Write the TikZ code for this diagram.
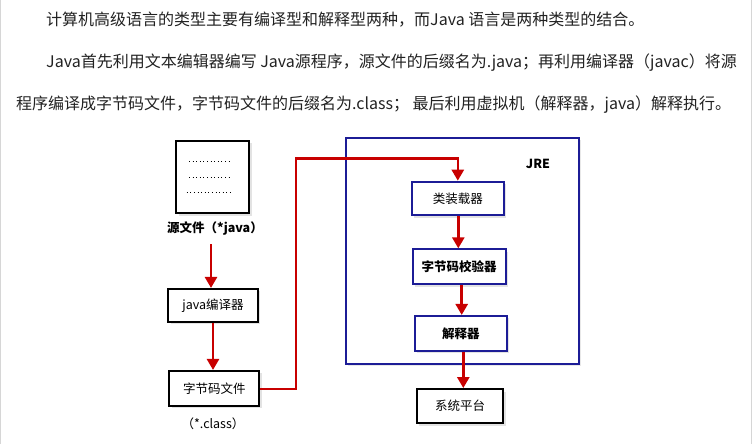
\documentclass[tikz,border=0pt]{standalone}
\usepackage{fontspec}
\setmainfont{Noto Sans CJK SC}
\newfontfamily\cjk{Noto Sans CJK SC}
\usetikzlibrary{arrows.meta,shadows}
\definecolor{jreblue}{HTML}{1C1C96}
\definecolor{flowred}{HTML}{C80000}
\definecolor{inktext}{HTML}{222222}
\definecolor{framegray}{HTML}{D6D6D6}
\tikzset{
  para/.style={anchor=west,inner sep=0pt,text=inktext,font=\cjk\fontsize{16}{16}\selectfont},
  boxbase/.style={rectangle,inner sep=0pt,line width=2pt,fill=white,
    drop shadow={opacity=0.22,shadow xshift=2.5pt,shadow yshift=-2.5pt},
    font=\cjk\fontsize{12.5}{12.5}\selectfont,text=black},
  filebox/.style={boxbase,draw=black},
  jrebox/.style={boxbase,draw=jreblue},
  caption/.style={inner sep=0pt,font=\cjk\fontsize{12.5}{12.5}\selectfont,text=black},
  flow/.style={draw=flowred,line width=2.6pt,-{Triangle[width=12pt,length=11pt]}},
  dotline/.style={line width=1pt,dash pattern=on 1pt off 2.6pt},
}
\begin{document}
\begin{tikzpicture}[x=1pt,y=-1pt]
  \useasboundingbox (0,0) rectangle (752,444);
  % page side rules
  \draw[framegray,line width=1.2pt] (0.6,0) -- (0.6,444);
  \draw[framegray,line width=1.2pt] (751.2,0) -- (751.2,444);

  % introductory text
  \node[para] (p1) at (46,20) {计算机高级语言的类型主要有编译型和解释型两种，而Java 语言是两种类型的结合。};
  \node[para] (p2) at (46,63) {Java首先利用文本编辑器编写 Java源程序，源文件的后缀名为.java；再利用编译器（javac）将源};
  \node[para] (p3) at (16,105) {程序编译成字节码文件，字节码文件的后缀名为.class； 最后利用虚拟机（解释器，java）解释执行。};

  % JRE frame
  \node[draw=jreblue,line width=1.8pt,minimum width=233.3pt,minimum height=225.7pt,inner sep=0pt,
        drop shadow={opacity=0.18,shadow xshift=2pt,shadow yshift=-2pt},fill=white] (jre) at (462.3,251.2) {};
  \node[caption] (jrelabel) at (538,164) {\bfseries JRE};

  % source file sheet
  \node[filebox,minimum width=73pt,minimum height=72.5pt] (src) at (212.5,177) {};
  \draw[dotline] (189,161.7) -- (232,161.7);
  \draw[dotline] (189,177.3) -- (232,177.3);
  \draw[dotline] (186.7,192.3) -- (233,192.3);
  \node[caption] (srclabel) at (215,228) {\bfseries 源文件（*java）};

  % compile stage
  \node[filebox,minimum width=89.4pt,minimum height=32.7pt] (javac) at (213,305.3) {java编译器};
  \node[filebox,minimum width=90pt,minimum height=34.7pt] (bytecode) at (214.3,388.3) {字节码文件};
  \node[caption] (classlabel) at (213,424) {（*.class）};

  % run stage inside JRE
  \node[jrebox,minimum width=92.3pt,minimum height=33.6pt] (loader) at (457.8,198.5) {类装载器};
  \node[jrebox,minimum width=93pt,minimum height=34.7pt] (verifier) at (459.2,266.7) {\bfseries 字节码校验器};
  \node[jrebox,minimum width=91.7pt,minimum height=34.7pt] (interp) at (460.8,333.3) {\bfseries 解释器};
  \node[filebox,minimum width=86.7pt,minimum height=34.3pt] (platform) at (460,406.2) {系统平台};

  % connectors
  \coordinate (srcarrow) at (211,244);
  \draw[flow] (srcarrow) -- (srcarrow |- javac.north);
  \draw[flow] (javac.south) -- (javac.south |- bytecode.north);
  \coordinate (riseA) at (296,389);
  \coordinate (riseB) at (296,158.3);
  \draw[flow] (bytecode.east |- riseA) -- (riseA) -- (riseB) -- (riseB -| loader.north) -- (loader.north);
  \coordinate (c1) at (458.3,0);
  \coordinate (c2) at (461.7,0);
  \coordinate (c3) at (463.3,0);
  \draw[flow] (c1 |- loader.south) -- (c1 |- verifier.north);
  \draw[flow] (c2 |- verifier.south) -- (c2 |- interp.north);
  \draw[flow] (c3 |- interp.south) -- (c3 |- platform.north);
\end{tikzpicture}
\end{document}
